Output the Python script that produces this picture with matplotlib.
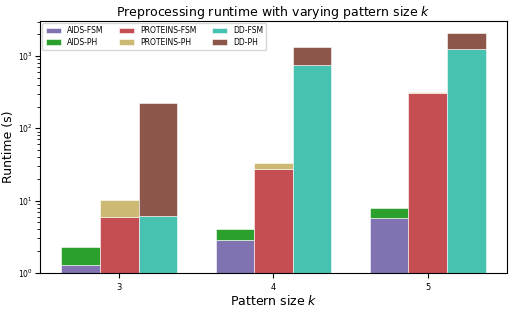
import numpy as np
from matplotlib import pyplot as plt

# Pattern sizes k
pattern_sizes = [3, 4, 5]

# Runtimes in seconds (FSM part and additional PH part, stacked)
aids_fsm = [1.29, 2.87, 5.75]
aids_ph = [1.0, 1.2, 2.15]
proteins_fsm = [6.0, 27.0, 306.0]
proteins_ph = [4.1, 6.4, 10.0]
dd_fsm = [6.2, 757.0, 1250.0]
dd_ph = [216.0, 564.0, 850.0]

datasets = [
    ("AIDS", aids_fsm, aids_ph, "#8172b2", "#2ca02c"),
    ("PROTEINS", proteins_fsm, proteins_ph, "#c44e52", "#ccb974"),
    ("DD", dd_fsm, dd_ph, "#48c2b0", "#8c564b"),
]

BAR_WIDTH = 0.25

fig = plt.figure(figsize=(5.15, 3.09), dpi=100)
ax = fig.add_axes([0.078, 0.117, 0.906, 0.815])

x = np.array(pattern_sizes, dtype=float)
for i, (name, fsm, ph, c_fsm, c_ph) in enumerate(datasets):
    pos = x + (i - 1) * BAR_WIDTH
    ax.bar(pos, fsm, width=BAR_WIDTH, color=c_fsm, label=f"{name}-FSM",
           edgecolor="white", linewidth=0.4)
    ax.bar(pos, ph, bottom=fsm, width=BAR_WIDTH, color=c_ph, label=f"{name}-PH",
           edgecolor="white", linewidth=0.4)

ax.set_yscale("log")
ax.set_ylim(1, 3050)
ax.set_xticks(pattern_sizes)
ax.set_xticklabels([str(k) for k in pattern_sizes])
ax.tick_params(labelsize=6)
ax.tick_params(axis="y", labelsize=5.5, pad=2)
ax.set_xlabel("Pattern size $k$", fontsize=9, labelpad=2)
ax.set_ylabel("Runtime (s)", fontsize=9, labelpad=2)
ax.set_title("Preprocessing runtime with varying pattern size $k$", fontsize=9, pad=3)
ax.legend(loc="upper left", ncol=3, fontsize=5.5, handlelength=2,
          columnspacing=2, labelspacing=0.3, borderaxespad=0.3)

fig.savefig("out.png", dpi=100)
